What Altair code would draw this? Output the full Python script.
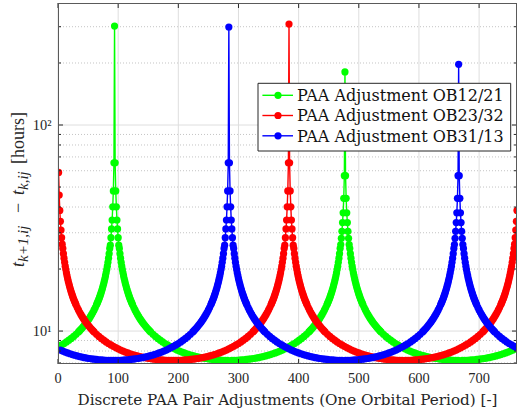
import altair as alt
import pandas as pd

# ---------------------------------------------------------------------------
# Data: time between consecutive PAA adjustments (hours) over one orbit
# ---------------------------------------------------------------------------
X_MAX = 763  # last adjustment index shown

# gap (hours) at a given distance (in adjustments) from a turning point
profile_dist = [8, 9, 10, 11, 12, 13, 14, 15, 16, 17, 18, 19, 20, 21, 22, 23, 24,
                25, 26, 27, 28, 29, 30,
                32, 34, 36, 38, 40, 42, 44, 46, 48, 50, 52, 54, 56, 58, 60,
                64, 68, 72, 76, 80, 84, 88, 92, 96, 100, 104, 108, 112, 116,
                120, 124, 128, 132, 136, 140, 144, 148, 152, 156, 160, 164,
                168, 172, 176, 180, 184, 188, 192]
profile_gap = [25.17, 23.77, 22.58, 21.55, 20.66, 19.88, 19.18, 18.56, 17.99,
               17.48, 17.01, 16.58, 16.18, 15.81, 15.47, 15.15, 14.85, 14.57,
               14.31, 14.06, 13.83, 13.61, 13.40,
               13.01, 12.66, 12.34, 12.04, 11.77, 11.52, 11.29, 11.07, 10.87,
               10.69, 10.51, 10.34, 10.19, 10.04, 9.90,
               9.65, 9.42, 9.21, 9.03, 8.86, 8.70, 8.56, 8.43, 8.31, 8.20,
               8.09, 8.00, 7.91, 7.83, 7.76, 7.69, 7.63, 7.57, 7.52, 7.48,
               7.43, 7.39, 7.36, 7.33, 7.30, 7.28, 7.25, 7.24, 7.22, 7.21,
               7.21, 7.20, 7.20]

# gaps of the first adjustments on either side of a turning point
near_a = [65.6, 47.9, 40.1, 34.6, 31.3, 28.4, 26.1]
near_b = [56.8, 44.1, 37.5, 33.6, 30.5, 28.2, 26.3]
near_red_edge = [58.9, 45.7, 38.5, 34.1, 30.9, 28.4, 26.4]

# turning points: (adjustment index, peak gap, neighbour gaps)
green_turns = [(94, 302, near_a), (477, 181, near_b), (860, None, near_a)]
red_turns = [(0, None, near_red_edge), (384, 309, near_a), (766, None, near_red_edge)]
blue_turns = [(-100, None, near_b), (284, 299, near_a), (666, 197, near_b)]

series_names = ["PAA Adjustment OB12/21", "PAA Adjustment OB23/32", "PAA Adjustment OB31/13"]
series_colors = ["#00ff00", "#ff0000", "#0000ff"]
series_turns = [green_turns, red_turns, blue_turns]

x_ticks = [0, 100, 200, 300, 400, 500, 600, 700]
x_tick_labels = ["0", "100", "200", "300", "400", "500", "600", "700"]
y_major = [10, 100]
y_major_labels = ["10\u00b9", "10\u00b2"]
y_minor = [7, 8, 9, 20, 30, 40, 50, 60, 70, 80, 90, 200, 300]
x_title = "Discrete PAA Pair Adjustments (One Orbital Period) [-]"


def build_rows(name, turns):
    positions = [t[0] for t in turns]

    def owned(x, pos):
        if x < 1 or x > X_MAX:
            return False
        return min(positions, key=lambda p: abs(x - p)) == pos

    pts = {}
    for pos, peak, near in turns:
        if peak is not None and owned(pos, pos):
            pts[pos] = peak
        for k, v in enumerate(near, start=1):
            for x in (pos - k, pos + k):
                if owned(x, pos):
                    pts[x] = v
        for d, v in zip(profile_dist, profile_gap):
            for x in (pos - d, pos + d):
                if owned(x, pos) and x not in pts:
                    pts[x] = v
    return [{"series": name, "x": x, "gap": pts[x]} for x in sorted(pts)]


rows = []
for name, turns in zip(series_names, series_turns):
    rows += build_rows(name, turns)
df = pd.DataFrame(rows)

# ---------------------------------------------------------------------------
# Scales and geometry
# ---------------------------------------------------------------------------
W, H = 459, 361
xs = alt.Scale(domain=[0, X_MAX], nice=False, zero=False)
ys = alt.Scale(type="log", domain=[6.92, 391], nice=False)
AX = "#262626"
TICK_FONT = "Liberation Serif"
TEXT_FONT = "DejaVu Serif"
one = pd.DataFrame({"k": [0]})

# grid lines
grid_x = alt.Chart(pd.DataFrame({"v": x_ticks})).mark_rule(
    color="#dedede", strokeWidth=1
).encode(x=alt.X("v:Q", scale=xs, axis=None))
grid_y_major = alt.Chart(pd.DataFrame({"v": y_major})).mark_rule(
    color="#dedede", strokeWidth=1
).encode(y=alt.Y("v:Q", scale=ys, axis=None))
grid_y_minor = alt.Chart(pd.DataFrame({"v": y_minor})).mark_rule(
    color="#c4c4c4", strokeWidth=1, strokeDash=[1, 2]
).encode(y=alt.Y("v:Q", scale=ys, axis=None))

layers = [grid_x, grid_y_major, grid_y_minor]

# data series: line plus filled markers, drawn in order
for name, color in zip(series_names, series_colors):
    base = alt.Chart(df[df["series"] == name])
    enc = dict(
        x=alt.X("x:Q", scale=xs, axis=None),
        y=alt.Y("gap:Q", scale=ys, axis=None),
    )
    layers.append(base.mark_line(color=color, strokeWidth=1.4, clip=True).encode(**enc))
    layers.append(base.mark_point(filled=True, color=color, size=52, opacity=1,
                                  clip=True).encode(**enc))

# inward tick marks on all four sides
TL, TLm = 5, 3
xt = pd.DataFrame({"v": x_ticks, "label": x_tick_labels})
layers.append(alt.Chart(xt).mark_rule(color=AX).encode(
    x=alt.X("v:Q", scale=xs, axis=None), y=alt.value(H), y2=alt.value(H - TL)))
layers.append(alt.Chart(xt).mark_rule(color=AX).encode(
    x=alt.X("v:Q", scale=xs, axis=None), y=alt.value(0), y2=alt.value(TL)))
for vals, length in ((y_major, TL), (y_minor, TLm)):
    yt = pd.DataFrame({"v": vals})
    layers.append(alt.Chart(yt).mark_rule(color=AX).encode(
        y=alt.Y("v:Q", scale=ys, axis=None), x=alt.value(0), x2=alt.value(length)))
    layers.append(alt.Chart(yt).mark_rule(color=AX).encode(
        y=alt.Y("v:Q", scale=ys, axis=None), x=alt.value(W), x2=alt.value(W - length)))

# tick labels
layers.append(alt.Chart(xt).mark_text(
    font=TICK_FONT, fontSize=14.4, color=AX, align="center", baseline="alphabetic"
).encode(x=alt.X("v:Q", scale=xs, axis=None), y=alt.value(380), text="label:N"))
yl = pd.DataFrame({"v": y_major, "label": y_major_labels})
layers.append(alt.Chart(yl).mark_text(
    font=TICK_FONT, fontSize=14.4, color=AX, align="right", baseline="alphabetic", dy=5
).encode(y=alt.Y("v:Q", scale=ys, axis=None), x=alt.value(-6.5), text="label:N"))

# x-axis title
layers.append(alt.Chart(one).mark_text(
    text=x_title, font=TEXT_FONT, fontSize=15.2, color=AX, align="center",
    baseline="alphabetic").encode(x=alt.value(W / 2), y=alt.value(402)))

# axes box
frame_col = "#5a5a5a"
layers.append(alt.Chart(one).mark_rule(color=frame_col).encode(
    x=alt.value(0.5), y=alt.value(0), y2=alt.value(H)))
layers.append(alt.Chart(one).mark_rule(color=frame_col).encode(
    x=alt.value(W - 0.5), y=alt.value(0), y2=alt.value(H)))
layers.append(alt.Chart(one).mark_rule(color=frame_col).encode(
    y=alt.value(0.5), x=alt.value(0), x2=alt.value(W)))
layers.append(alt.Chart(one).mark_rule(color=frame_col).encode(
    y=alt.value(H - 0.5), x=alt.value(0), x2=alt.value(W)))

# legend
LX0, LX1, LY0, LY1 = 200, 452.7, 80.3, 148
row_y = [92.3, 112.5, 132.8]
layers.append(alt.Chart(one).mark_rect(fill="white", stroke=AX, strokeWidth=1).encode(
    x=alt.value(LX0), x2=alt.value(LX1), y=alt.value(LY0), y2=alt.value(LY1)))
for name, color, ry in zip(series_names, series_colors, row_y):
    layers.append(alt.Chart(one).mark_rule(color=color, strokeWidth=1.4).encode(
        x=alt.value(204.4), x2=alt.value(235), y=alt.value(ry)))
    layers.append(alt.Chart(one).mark_point(filled=True, color=color, size=52, opacity=1).encode(
        x=alt.value(220), y=alt.value(ry)))
    layers.append(alt.Chart(one).mark_text(
        text=name, align="left", baseline="alphabetic", font=TEXT_FONT,
        fontSize=16, color="#111111").encode(x=alt.value(239), y=alt.value(ry + 5.8)))

# y-axis title with subscripts, reading bottom to top
y_title_parts = [
    ("t", "italic", 18, -34.3, 264),
    ("k+1,ij", "italic", 15, -30.3, 259),
    ("\u2212", "normal", 18, -34.3, 210),
    ("t", "italic", 18, -34.3, 192),
    ("k,ij", "italic", 15, -30.3, 187),
    ("[hours]", "normal", 18, -34.3, 161),
]
for txt, style, size, px, py in y_title_parts:
    layers.append(alt.Chart(one).mark_text(
        text=txt, angle=270, align="left", baseline="alphabetic",
        font=TICK_FONT, fontStyle=style, fontSize=size, color=AX,
    ).encode(x=alt.value(px), y=alt.value(py)))

chart = alt.layer(*layers).properties(
    width=W, height=H,
    padding={"left": 58, "right": 1, "top": 3, "bottom": 56},
    autosize=alt.AutoSizeParams(type="none"),
).configure_view(stroke=None)

chart.save("out.html", embed_options={"renderer": "svg", "actions": False})
